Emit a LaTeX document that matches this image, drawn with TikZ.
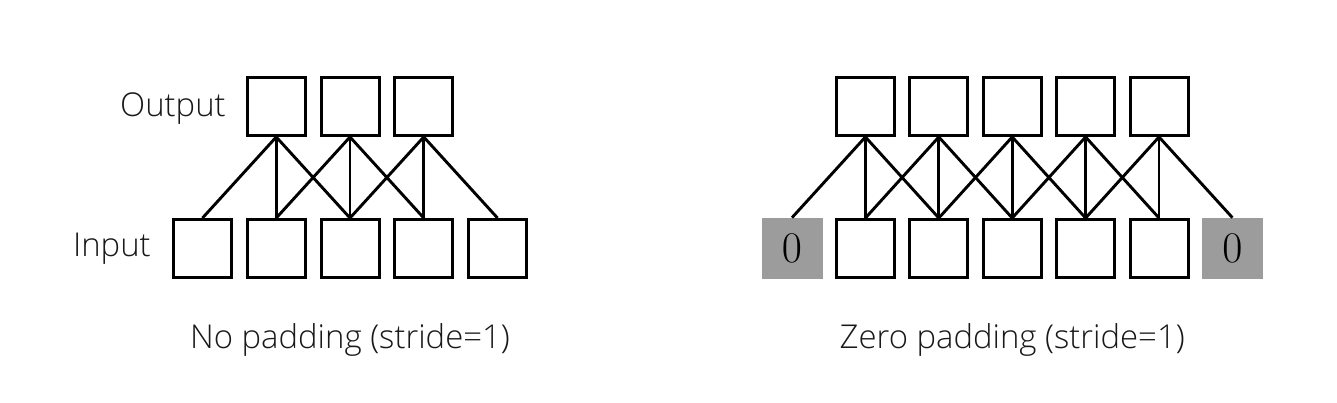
\documentclass[tikz,border=0pt]{standalone}
\usepackage{fontspec}
\IfFontExistsTF{Open Sans Light}{\setmainfont{Open Sans Light}}{\setmainfont{Open Sans}}
\definecolor{padgray}{HTML}{9C9C9C}
\tikzset{
  cell/.style={draw=black, line width=0.06cm, minimum size=1.16cm, inner sep=0pt},
  padcell/.style={fill=padgray, draw=none, minimum size=1.22cm, inner sep=0pt,
    font=\fontsize{23}{23}\selectfont},
  wire/.style={line width=0.058cm},
  lbl/.style={inner sep=0pt, font=\fontsize{18.7}{22}\selectfont, text=black!90}
}
\begin{document}
\begin{tikzpicture}
                    \useasboundingbox (0,0) rectangle (26.740000,8.060000);

                    % Left: input cells
                    \node [cell] (inL1) at (4.050000,3.090000) {};%
                    \node [cell] (inL2) at (5.525000,3.090000) {};%
                    \node [cell] (inL3) at (7.000000,3.090000) {};%
                    \node [cell] (inL4) at (8.475000,3.090000) {};%
                    \node [cell] (inL5) at (9.950000,3.090000) {};%

                    % Left: output cells
                    \node [cell] (outL1) at (5.525000,5.930000) {};%
                    \node [cell] (outL2) at (7.000000,5.930000) {};%
                    \node [cell] (outL3) at (8.475000,5.930000) {};%

                    % Left: labels
                    \node [lbl, anchor=base east] (labOut) at (4.520000,5.720000) {Output};%
                    \node [lbl, anchor=base east] (labIn) at (3.020000,2.920000) {Input};%
                    \node [lbl, anchor=base] (capL) at (7.000000,1.080000) {No padding (stride=1)};%

                    % Left: wires from outL1
                    \draw [wire] (outL1.south) -- (inL1.north);%
                    \draw [wire] (outL1.south) -- (inL2.north);%
                    \draw [wire] (outL1.south) -- (inL3.north);%

                    % Left: wires from outL2
                    \draw [wire] (outL2.south) -- (inL2.north);%
                    \draw [wire] (outL2.south) -- (inL3.north);%
                    \draw [wire] (outL2.south) -- (inL4.north);%

                    % Left: wires from outL3
                    \draw [wire] (outL3.south) -- (inL3.north);%
                    \draw [wire] (outL3.south) -- (inL4.north);%
                    \draw [wire] (outL3.south) -- (inL5.north);%

                    % Right: input cells, zero padded
                    \node [padcell] (inR1) at (15.840000,3.090000) {$0$};%
                    \node [cell] (inR2) at (17.308000,3.090000) {};%
                    \node [cell] (inR3) at (18.776000,3.090000) {};%
                    \node [cell] (inR4) at (20.244000,3.090000) {};%
                    \node [cell] (inR5) at (21.712000,3.090000) {};%
                    \node [cell] (inR6) at (23.180000,3.090000) {};%
                    \node [padcell] (inR7) at (24.648000,3.090000) {$0$};%

                    % Right: output cells
                    \node [cell] (outR1) at (17.308000,5.930000) {};%
                    \node [cell] (outR2) at (18.776000,5.930000) {};%
                    \node [cell] (outR3) at (20.244000,5.930000) {};%
                    \node [cell] (outR4) at (21.712000,5.930000) {};%
                    \node [cell] (outR5) at (23.180000,5.930000) {};%

                    % Right: caption
                    \node [lbl, anchor=base] (capR) at (20.244000,1.080000) {Zero padding (stride=1)};%

                    % Right: wires from outR1
                    \draw [wire] (outR1.south) -- (inR1.north);%
                    \draw [wire] (outR1.south) -- (inR2.north);%
                    \draw [wire] (outR1.south) -- (inR3.north);%

                    % Right: wires from outR2
                    \draw [wire] (outR2.south) -- (inR2.north);%
                    \draw [wire] (outR2.south) -- (inR3.north);%
                    \draw [wire] (outR2.south) -- (inR4.north);%

                    % Right: wires from outR3
                    \draw [wire] (outR3.south) -- (inR3.north);%
                    \draw [wire] (outR3.south) -- (inR4.north);%
                    \draw [wire] (outR3.south) -- (inR5.north);%

                    % Right: wires from outR4
                    \draw [wire] (outR4.south) -- (inR4.north);%
                    \draw [wire] (outR4.south) -- (inR5.north);%
                    \draw [wire] (outR4.south) -- (inR6.north);%

                    % Right: wires from outR5
                    \draw [wire] (outR5.south) -- (inR5.north);%
                    \draw [wire] (outR5.south) -- (inR6.north);%
                    \draw [wire] (outR5.south) -- (inR7.north);%
\end{tikzpicture}
\end{document}
